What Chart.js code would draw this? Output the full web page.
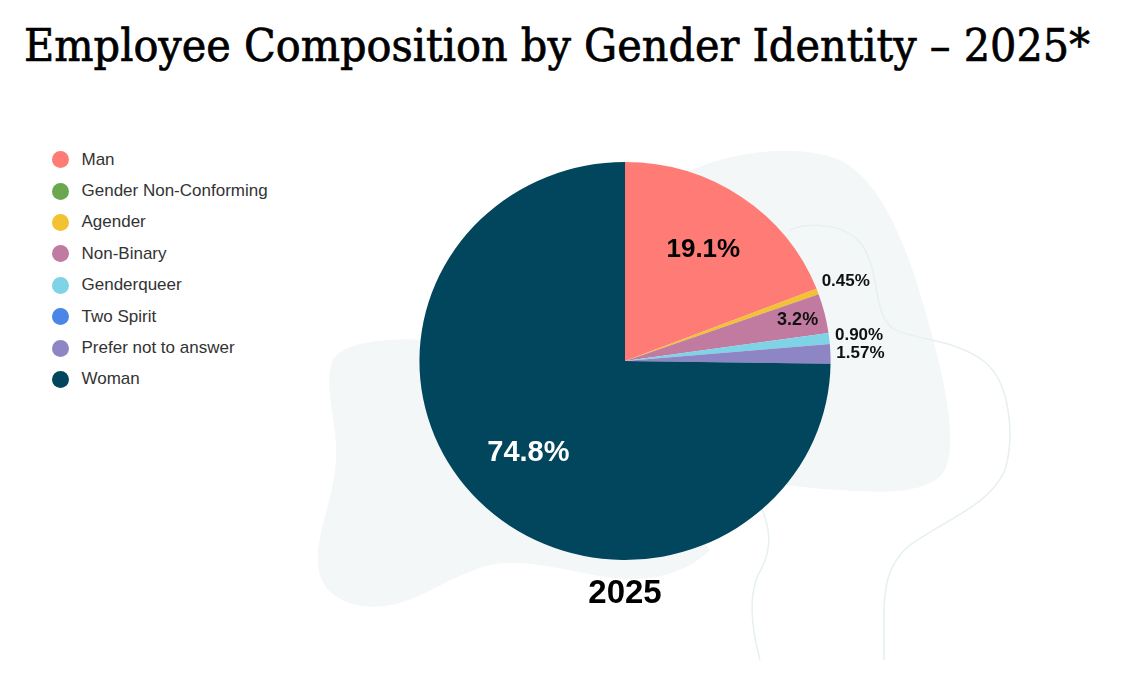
<!DOCTYPE html>
<html lang="en">
<head>
  <meta charset="UTF-8">
  <title>Employee Composition by Gender Identity</title>
  <script src="https://cdn.jsdelivr.net/npm/chart.js"></script>
  <style>
    html, body { margin: 0; padding: 0; background: #fff; }
    .page { position: relative; width: 1128px; height: 678px; overflow: hidden; }
    .blobs { position: absolute; left: 0; top: 0; }
    h1 {
      position: absolute; left: 24px; top: 20px; margin: 0;
      font-family: "DejaVu Serif", serif; font-weight: normal;
      font-size: 44px; line-height: 52px; color: #000; white-space: nowrap;
      -webkit-text-stroke: 0.7px #000;
      transform-origin: 0 0;
    }
    #legend { position: absolute; left: 52px; top: 144px; margin: 0; padding: 0; list-style: none; }
    #legend li {
      display: flex; align-items: center; height: 31.4px;
      font-family: "Liberation Sans", Arial, sans-serif; font-size: 17px; color: #333;
    }
    #legend .dot { width: 17px; height: 17px; border-radius: 50%; margin-right: 12.5px; }
    #chart { position: absolute; left: 0; top: 0; }
  </style>
</head>
<body>
  <div class="page">
    <svg class="blobs" width="1128" height="678">
      <path d="M675 178 C715 155 790 140 840 160 C880 180 905 240 925 310 C945 380 958 440 945 470 C930 495 880 493 840 490 C800 488 770 482 740 478 L650 400 Z" fill="#f3f7f8"/>
      <path d="M430 340 C390 338 345 340 333 360 C322 385 338 420 336 460 C334 500 316 530 318 565 C320 595 350 610 385 606 C420 602 450 575 490 565 C540 555 600 585 650 578 C680 574 700 560 710 550 L600 400 Z" fill="#f3f7f8"/>
      <path d="M790 230 C805 222 845 222 862 245 C880 270 872 310 892 328 C910 340 955 338 985 362 C1012 385 1014 440 1005 470 C990 505 945 520 910 545 C880 570 884 600 884 660" fill="none" stroke="#e6eff2" stroke-width="1.5"/>
      <path d="M760 505 C772 530 772 552 758 575 C748 598 752 630 760 660" fill="none" stroke="#e6eff2" stroke-width="1.5"/>
    </svg>
    <h1 id="title">Employee Composition by Gender Identity – 2025*</h1>
    <ul id="legend"></ul>
    <canvas id="chart" width="1128" height="678"></canvas>
  </div>
  <script>
    const categories = ['Man', 'Gender Non-Conforming', 'Agender', 'Non-Binary', 'Genderqueer', 'Two Spirit', 'Prefer not to answer', 'Woman'];
    const shares = [19.1, 0, 0.45, 3.2, 0.90, 0, 1.57, 74.8];
    const shareLabels = ['19.1%', '0%', '0.45%', '3.2%', '0.90%', '0%', '1.57%', '74.8%'];
    const sliceColors = ['#ff7b76', '#6aa84f', '#f2c232', '#c27ba0', '#7ed3e6', '#4a86e8', '#8e86c4', '#02465e'];
    const yearLabel = '2025';

    // squeeze the heading to the width it has in the slide
    const titleEl = document.getElementById('title');
    const titleW = titleEl.getBoundingClientRect().width;
    titleEl.style.transform = 'scaleX(' + (1066 / titleW) + ')';

    // legend built from the same arrays
    const legendEl = document.getElementById('legend');
    categories.forEach((name, i) => {
      const li = document.createElement('li');
      const dot = document.createElement('span');
      dot.className = 'dot';
      dot.style.background = sliceColors[i];
      li.appendChild(dot);
      li.appendChild(document.createTextNode(name));
      legendEl.appendChild(li);
    });

    // the source pie is a bit wider than tall
    const stretchX = 1.033;

    const labelStyle = (v) => {
      if (v > 50) return { r: 0.66, size: 29, color: '#fff' };
      if (v >= 10) return { r: 0.675, size: 26, color: '#000' };
      if (v >= 2) return { r: 0.865, size: 18, color: '#111' };
      return { r: 1.146, size: 17, color: '#111' };
    };

    const pieLabels = {
      id: 'pieLabels',
      beforeDatasetsDraw(chart) {
        const arc = chart.getDatasetMeta(0).data[0];
        const ctx = chart.ctx;
        ctx.save();
        ctx.translate(arc.x, 0);
        ctx.scale(stretchX, 1);
        ctx.translate(-arc.x, 0);
      },
      afterDatasetsDraw(chart) {
        const ctx = chart.ctx;
        ctx.restore();
        const meta = chart.getDatasetMeta(0);
        ctx.save();
        ctx.textAlign = 'center';
        ctx.textBaseline = 'middle';
        meta.data.forEach((a, i) => {
          const v = shares[i];
          if (!v) return;
          const s = labelStyle(v);
          const mid = (a.startAngle + a.endAngle) / 2;
          const x = a.x + Math.cos(mid) * a.outerRadius * s.r * stretchX;
          const y = a.y + Math.sin(mid) * a.outerRadius * s.r;
          ctx.font = 'bold ' + s.size + 'px "Liberation Sans", Arial, sans-serif';
          ctx.fillStyle = s.color;
          ctx.fillText(shareLabels[i], x, y);
        });
        ctx.restore();
      }
    };

    new Chart(document.getElementById('chart'), {
      type: 'pie',
      data: {
        labels: categories,
        datasets: [{
          data: shares,
          backgroundColor: sliceColors,
          borderWidth: 0
        }]
      },
      options: {
        responsive: false,
        animation: false,
        layout: { padding: { left: 418, right: 296, top: 162, bottom: 64.7 } },
        plugins: {
          legend: { display: false },
          tooltip: { enabled: false },
          title: {
            display: true,
            position: 'bottom',
            text: yearLabel,
            color: '#000',
            font: { family: '"Liberation Sans", Arial, sans-serif', size: 33, weight: 'bold', lineHeight: 1.2 },
            padding: { top: 13.7, bottom: 0 }
          }
        }
      },
      plugins: [pieLabels]
    });
  </script>
</body>
</html>
